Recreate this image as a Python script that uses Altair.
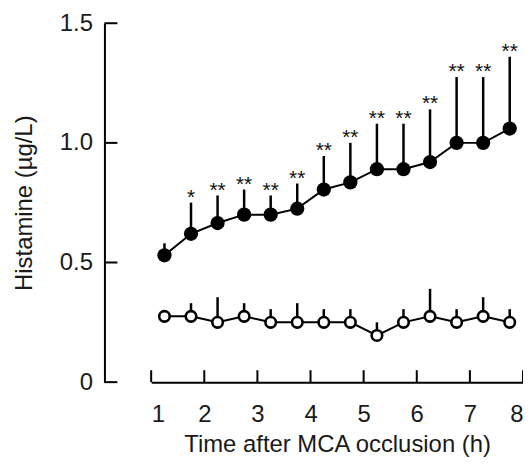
import altair as alt
import pandas as pd

hours = [1.25, 1.75, 2.25, 2.75, 3.25, 3.75, 4.25, 4.75, 5.25, 5.75, 6.25, 6.75, 7.25, 7.75]
mcao_mean = [0.53, 0.62, 0.665, 0.70, 0.70, 0.725, 0.805, 0.835, 0.89, 0.89, 0.92, 1.00, 1.00, 1.06]
mcao_top = [0.58, 0.75, 0.78, 0.805, 0.78, 0.83, 0.945, 1.00, 1.08, 1.08, 1.14, 1.275, 1.275, 1.36]
mcao_stars = ["", "*", "**", "**", "**", "**", "**", "**", "**", "**", "**", "**", "**", "**"]
sham_mean = [0.275, 0.275, 0.25, 0.275, 0.25, 0.25, 0.25, 0.25, 0.195, 0.25, 0.275, 0.25, 0.275, 0.25]
sham_top = [0.29, 0.33, 0.355, 0.33, 0.305, 0.33, 0.305, 0.305, 0.25, 0.305, 0.39, 0.305, 0.355, 0.305]

x_ticks = [1, 2, 3, 4, 5, 6, 7, 8]
y_ticks = [0, 0.5, 1.0, 1.5]

FONT = "Liberation Sans"
W, H = 374, 361

mcao = pd.DataFrame({"hour": hours, "value": mcao_mean, "top": mcao_top, "star": mcao_stars, "group": "MCAO"})
sham = pd.DataFrame({"hour": hours, "value": sham_mean, "top": sham_top, "star": "", "group": "sham"})
both = pd.concat([mcao, sham], ignore_index=True)

xs = alt.Scale(domain=[1, 8], nice=False, zero=False)
ys = alt.Scale(domain=[0, 1.5], nice=False, zero=False)

xaxis = alt.Axis(title="Time after MCA occlusion (h)", values=x_ticks, format="d", ticks=False,
                 grid=False, labelPadding=21, titlePadding=6, labelOverlap=False)
yaxis = alt.Axis(title="Histamine (µg/L)", values=y_ticks, ticks=False, grid=False, offset=47,
                 labelPadding=12, titlePadding=23, labelOverlap=False,
                 labelExpr="datum.value == 0 ? '0' : format(datum.value, '.1f')")

X = alt.X("hour:Q", scale=xs, axis=xaxis)
Y = alt.Y("value:Q", scale=ys, axis=yaxis)

bars = alt.Chart(both).mark_rule(color="black", strokeWidth=2.5).encode(x=X, y=Y, y2="top:Q")
line = alt.Chart(both).mark_line(color="black", strokeWidth=2).encode(x=X, y=Y, detail="group:N")
filled = alt.Chart(mcao).mark_point(shape="circle", filled=True, color="black", size=205, opacity=1).encode(x=X, y=Y)
hollow = alt.Chart(sham).mark_point(shape="circle", filled=True, fill="white", stroke="black",
                                    strokeWidth=2.6, size=112, opacity=1).encode(x=X, y=Y)
stars = alt.Chart(mcao).mark_text(font=FONT, fontSize=21, color="#111", baseline="alphabetic", dy=1).encode(
    x=X, y=alt.Y("top:Q", scale=ys, axis=yaxis), text="star:N")

xtick_df = pd.DataFrame({"tick": x_ticks})
ytick_df = pd.DataFrame({"tick": y_ticks})
xt = alt.Chart(xtick_df).mark_rule(color="black", strokeWidth=2).encode(
    x=alt.X("tick:Q", scale=xs, axis=xaxis), y=alt.value(H), y2=alt.value(H - 12))
yt = alt.Chart(ytick_df).mark_rule(color="black", strokeWidth=2).encode(
    y=alt.Y("tick:Q", scale=ys, axis=yaxis), x=alt.value(-47), x2=alt.value(-34))

chart = alt.layer(bars, line, hollow, filled, stars, xt, yt).properties(
    width=W, height=H,
    autosize=alt.AutoSizeParams(type="none"),
    padding={"left": 144, "top": 14, "right": 0, "bottom": 80},
).configure_view(strokeWidth=0).configure_axis(
    labelFont=FONT, titleFont=FONT, labelFontSize=24, titleFontSize=24, titleFontWeight="normal",
    labelColor="#1a1a1a", titleColor="#1a1a1a", domainColor="black", domainWidth=2,
)

chart.save("out.html", embed_options={"renderer": "svg", "actions": False})
